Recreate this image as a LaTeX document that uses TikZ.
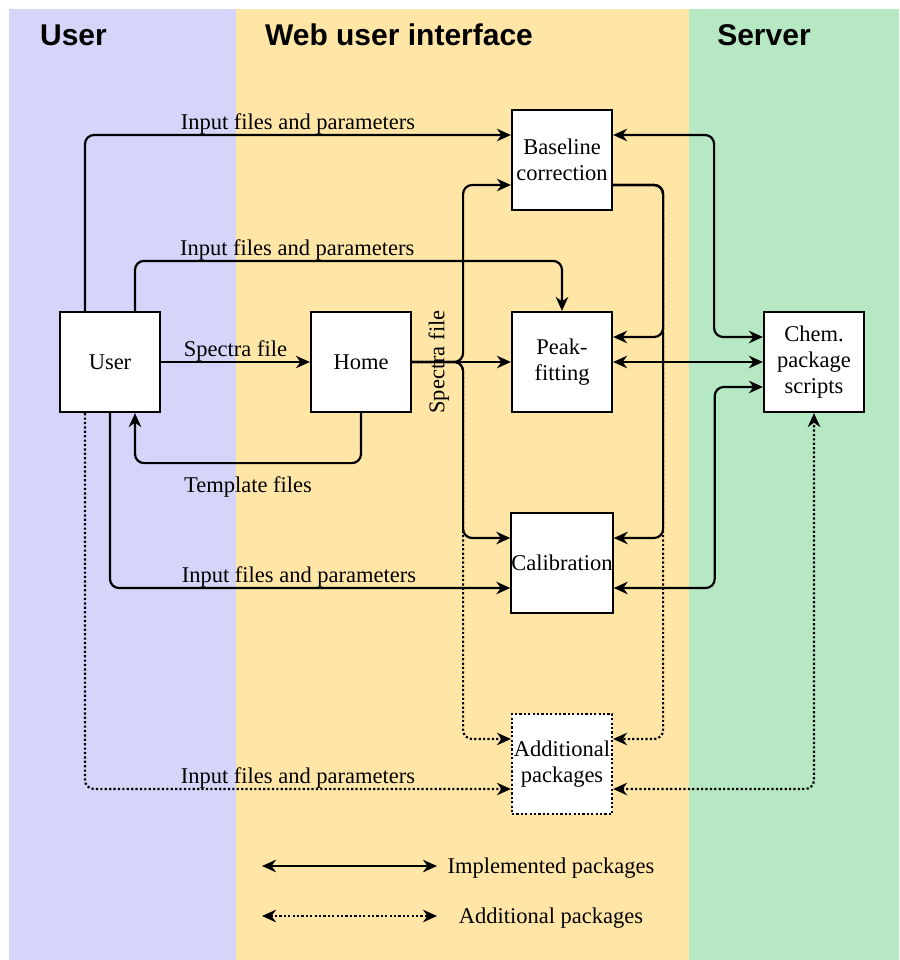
\documentclass[tikz,border=0pt]{standalone}
\usepackage{fontspec}
\setmainfont{Liberation Serif}
\newfontfamily\titlefont{Liberation Sans}
\usetikzlibrary{arrows.meta,calc}
\definecolor{laneuser}{RGB}{213,212,249}
\definecolor{laneweb}{RGB}{255,230,166}
\definecolor{laneserver}{RGB}{182,232,196}
\begin{document}
\begin{tikzpicture}[x=1pt,y=-1pt,
  >={Stealth[length=14pt,width=12.5pt,inset=4.5pt]},
  txt/.style={font=\fontsize{22.5}{26}\selectfont},
  title/.style={font=\titlefont\bfseries\fontsize{30}{34}\selectfont},
  box/.style={txt, draw, fill=white, line width=2.2pt, minimum width=100pt, minimum height=100pt, inner sep=0pt, align=center},
  dotbox/.style={box, dash pattern=on 2.2pt off 2.2pt},
  conn/.style={line width=2.2pt, rounded corners=9pt},
  dotconn/.style={conn, dash pattern=on 2.2pt off 2.2pt},
  lbl/.style={txt, inner sep=0pt, yshift=-2pt}
]
\useasboundingbox (0,0) rectangle (899,960);
\fill[white] (0,0) rectangle (899,960);
\fill[laneuser] (9,9) rectangle (236,960);
\fill[laneweb] (236,9) rectangle (689,960);
\fill[laneserver] (689,9) rectangle (899,960);

\node[title] (tuser) at (73.5,35) {User};
\node[title] (tweb) at (399,35) {Web user interface};
\node[title] (tserver) at (764,35) {Server};

\node[box] (user) at (110,362) {User};
\node[box] (home) at (361,362) {Home};
\node[box] (baseline) at (562,160) {Baseline\\correction};
\node[box] (peak) at (562,362) {Peak-\\fitting};
\node[box] (calib) at (562,563) {Calibration};
\node[dotbox] (addl) at (562,764) {Additional\\packages};
\node[box] (chem) at (814,362) {Chem.\\package\\scripts};

% User -> modules
\draw[conn,->] ($(user.north)+(-25,0)$) |- node[lbl, above=2pt, pos=0.75] {Input files and parameters} ($(baseline.west)+(0,-25)$);
\draw[conn,->] ($(user.north)+(25,0)$) -- ++(0,-50) -| node[lbl, above=2pt, pos=0.19] {Input files and parameters} (peak.north);
\draw[conn,->] (user.east) -- node[lbl, above=2pt] {Spectra file} (home.west);
\draw[conn,->] (home.south) -- ++(0,50) -| node[lbl, below=10pt, pos=0.25] {Template files} ($(user.south)+(25,0)$);
\draw[conn,->] (user.south) |- node[lbl, above=2pt, pos=0.736] {Input files and parameters} ($(calib.west)+(0,25)$);
\draw[dotconn,->] ($(user.south)+(-25,0)$) |- node[lbl, above=2pt, pos=0.75] {Input files and parameters} ($(addl.west)+(0,25)$);

% Home -> modules
\draw[dotconn,->] (home.east) -- ++(51,0) |- ($(addl.west)+(0,-25)$);
\draw[conn,->] (home.east) -- ++(51,0) |- ($(baseline.west)+(0,25)$);
\draw[conn,->] (home.east) -- ++(51,0) |- ($(calib.west)+(0,-25)$);
\draw[conn,->] (home.east) -- node[txt, inner sep=0pt, rotate=90, pos=0.27] {Spectra file} (peak.west);

% Baseline -> other modules
\draw[dotconn,->] ($(baseline.east)+(0,25)$) -- ++(50,0) |- ($(addl.east)+(0,-25)$);
\draw[conn,->] ($(baseline.east)+(0,25)$) -- ++(50,0) |- ($(calib.east)+(0,-25)$);
\draw[conn,->] ($(baseline.east)+(0,25)$) -- ++(50,0) |- ($(peak.east)+(0,-25)$);

% Modules <-> server
\draw[conn,<->] ($(baseline.east)+(0,-25)$) -- ++(101,0) |- ($(chem.west)+(0,-25)$);
\draw[conn,<->] (peak.east) -- (chem.west);
\draw[conn,<->] ($(calib.east)+(0,25)$) -- ++(101,0) |- ($(chem.west)+(0,25)$);
\draw[dotconn,<->] ($(addl.east)+(0,25)$) -| (chem.south);

% Legend
\coordinate (la1) at (262,866);
\coordinate (lb1) at (437,866);
\coordinate (la2) at (262,916);
\coordinate (lb2) at (437,916);
\draw[conn,<->] (la1) -- (lb1);
\draw[dotconn,<->] (la2) -- (lb2);
\node[lbl] (leg1) at (551,866) {Implemented packages};
\node[lbl] (leg2) at (551,916) {Additional packages};
\end{tikzpicture}
\end{document}
